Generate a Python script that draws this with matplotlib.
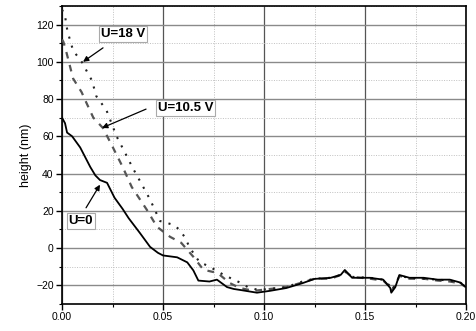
import numpy as np
import matplotlib
matplotlib.use("Agg")
import matplotlib.pyplot as plt
from matplotlib.ticker import MultipleLocator

plt.rcParams['font.family'] = ['Liberation Sans', 'DejaVu Sans']

# U=0 (solid)
x0 = [0, 0.0015, 0.0025, 0.005, 0.009, 0.014, 0.0165, 0.0188, 0.0223, 0.026, 0.03, 0.033,
      0.0386, 0.0436, 0.0475, 0.05, 0.0535, 0.057, 0.062, 0.065, 0.0675, 0.073, 0.0767,
      0.0817, 0.085, 0.088, 0.0965, 0.103, 0.111, 0.119, 0.125, 0.133, 0.138, 0.140,
      0.1436, 0.1525, 0.159, 0.1625, 0.163, 0.165, 0.167, 0.172, 0.179, 0.186, 0.192,
      0.197, 0.2]
y0 = [70, 67, 62, 60, 54, 43.5, 39, 36.5, 35, 27, 21, 16,
      8, 0.6, -2.6, -4, -4.5, -5, -7.7, -12, -17.5, -18, -17,
      -21, -22, -22.5, -24, -23, -21.5, -18.9, -16.6, -16, -14.4, -11.8,
      -16, -16, -17, -21.5, -24, -21, -14.5, -16, -16, -17, -17,
      -18.5, -21]

# U=10.5 V (dashed)
x1 = [0, 0.0007, 0.0023, 0.0055, 0.0097, 0.0122, 0.0155, 0.0203, 0.0252, 0.030, 0.0345,
      0.042, 0.047, 0.0535, 0.059, 0.065, 0.070, 0.077, 0.083, 0.088, 0.095, 0.103,
      0.111, 0.119, 0.125, 0.133, 0.138, 0.140, 0.1436, 0.1525, 0.159, 0.1625, 0.163,
      0.165, 0.167, 0.172, 0.179, 0.186, 0.192, 0.197, 0.2]
y1 = [112, 110.7, 104.6, 91, 83.7, 77.7, 70, 64.4, 54, 43.6, 32.8,
      20.5, 11.4, 6, 2.8, -4.7, -11.7, -13.4, -18.8, -21.5, -23, -22,
      -21, -18.5, -16.5, -16.5, -14.5, -12.5, -15.5, -16.5, -17.5, -21, -23,
      -20, -15, -16.5, -16.5, -17.5, -18, -19, -21]

# U=18 V (dotted)
x2 = [0, 0.0015, 0.002, 0.0028, 0.004, 0.0055, 0.008, 0.0104, 0.0125, 0.0148, 0.017, 0.022,
      0.027, 0.031, 0.035, 0.0396, 0.0436, 0.0485, 0.055, 0.058, 0.061, 0.063, 0.068,
      0.073, 0.080, 0.085, 0.088, 0.092, 0.097, 0.103, 0.111, 0.119, 0.125, 0.133,
      0.138, 0.140, 0.1436, 0.1525, 0.159, 0.1625, 0.163, 0.165, 0.167, 0.172, 0.179,
      0.186, 0.192, 0.197, 0.2]
y2 = [128, 125, 120.7, 116, 111.6, 106, 102.5, 99, 94.4, 90, 81.5, 74,
      60, 51.6, 43, 34, 26, 14.5, 12.5, 10, 5.5, 0.6, -7.5,
      -10, -14.4, -17, -18.5, -21, -22.5, -22, -21, -18, -16.5, -16,
      -14.5, -12.5, -15.5, -16, -17, -20.5, -22.5, -20, -15, -16, -16.5,
      -17, -17.5, -18.5, -20.5]

labels = ['U=18 V', 'U=10.5 V', 'U=0']
label_xy = [(0.0302, 115), (0.0611, 75.4), (0.0094, 14.5)]
arrow_from = [(0.0203, 107.5), (0.0416, 74.6), (0.0119, 21.6)]
arrow_to = [(0.0104, 100), (0.0198, 64.5), (0.0188, 34)]

fig = plt.figure(figsize=(4.77, 3.31), dpi=100)
ax = fig.add_axes([0.13, 0.082, 0.847, 0.9])

ax.plot(x0, y0, color='black', lw=1.3, zorder=5)
ax.plot(x1, y1, color='#555555', lw=1.6, ls=(0, (3, 3)), zorder=4)
ax.plot(x2, y2, color='#222222', lw=1.5, ls=(0, (1, 3.5)), zorder=4)

ax.set_xlim(0, 0.2)
ax.set_ylim(-30, 130)
ax.xaxis.set_major_locator(MultipleLocator(0.05))
ax.xaxis.set_minor_locator(MultipleLocator(0.025))
ax.yaxis.set_major_locator(MultipleLocator(20))
ax.yaxis.set_minor_locator(MultipleLocator(10))
ax.set_xticks([0, 0.05, 0.1, 0.15, 0.2])
ax.set_xticklabels(['0.00', '0.05', '0.10', '0.15', '0.20'])

ax.grid(which='major', axis='y', color='#8a8a8a', lw=1.0, ls='-')
ax.grid(which='major', axis='x', color='#555555', lw=0.9, ls='-')
ax.grid(which='minor', color='#c0c0c0', lw=0.7, ls=(0, (1, 1.5)))
ax.set_axisbelow(True)

ax.tick_params(which='major', direction='out', length=4, width=1.0, labelsize=7.5, pad=2)
ax.tick_params(which='minor', direction='out', length=2.5, width=0.8)
for s in ax.spines.values():
    s.set_linewidth(1.2)

ax.set_ylabel('height (nm)', fontsize=9, labelpad=3)

box = dict(boxstyle='square,pad=0.15', fc='white', ec='#aaaaaa', lw=0.8)
for lab, (tx, ty), p0, p1 in zip(labels, label_xy, arrow_from, arrow_to):
    ax.text(tx, ty, lab, fontsize=9.5, fontweight='bold', ha='center', va='center',
            bbox=box, zorder=6)
    ax.annotate('', xy=p1, xytext=p0, zorder=6,
                arrowprops=dict(arrowstyle='-|>', color='black', lw=0.9,
                                mutation_scale=8, shrinkA=0, shrinkB=0))

fig.savefig('out.png', dpi=100)
